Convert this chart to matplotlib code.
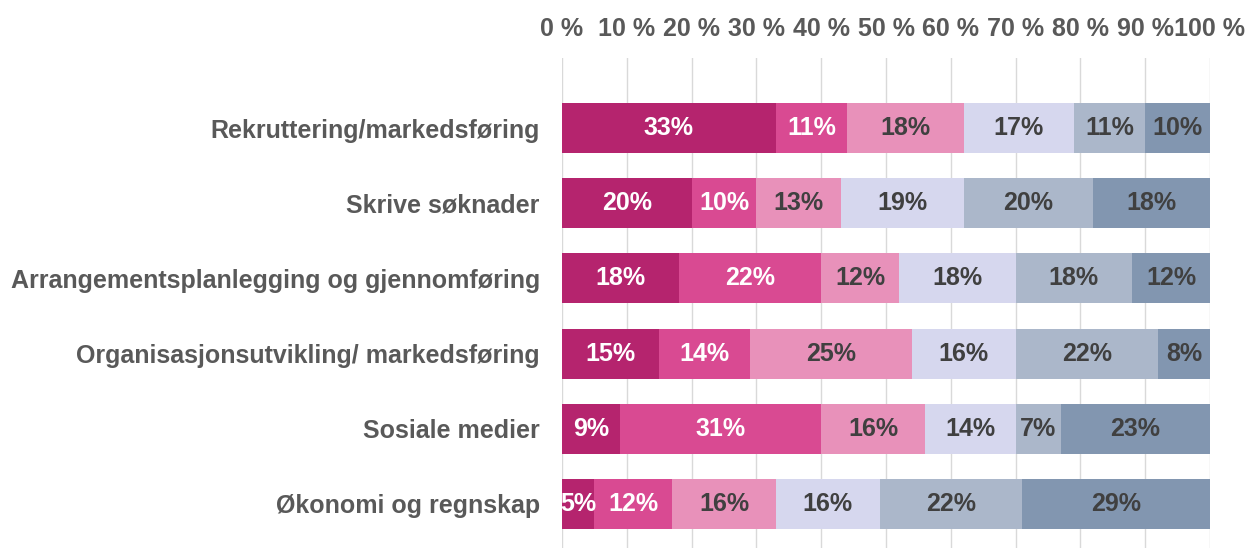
import matplotlib
matplotlib.use("Agg")
import matplotlib.pyplot as plt
import numpy as np

plt.rcParams['font.family'] = ['Liberation Sans', 'DejaVu Sans']

categories = [
    "Rekruttering/markedsføring",
    "Skrive søknader",
    "Arrangementsplanlegging og gjennomføring",
    "Organisasjonsutvikling/ markedsføring",
    "Sosiale medier",
    "Økonomi og regnskap",
]
series1 = [33, 20, 18, 15, 9, 5]
series2 = [11, 10, 22, 14, 31, 12]
series3 = [18, 13, 12, 25, 16, 16]
series4 = [17, 19, 18, 16, 14, 16]
series5 = [11, 20, 18, 22, 7, 22]
series6 = [10, 18, 12, 8, 23, 29]
tick_values = list(range(0, 101, 10))
tick_labels = [f"{v} %" for v in tick_values]

series = [series1, series2, series3, series4, series5, series6]
colors = ["#B5246E", "#D94A92", "#E891BA", "#D6D7EE", "#ABB7CA", "#8296B0"]
text_colors = ["white", "white", "#404040", "#404040", "#404040", "#404040"]

fig = plt.figure(figsize=(12.47, 5.48), dpi=100)
ax = fig.add_axes([562/1247, 0.0, (1210-562)/1247, 1 - 58/548])

y = np.arange(len(categories))
left = np.zeros(len(categories))
for vals, c, tc in zip(series, colors, text_colors):
    vals = np.array(vals, dtype=float)
    ax.barh(y, vals, left=left, height=0.667, color=c, zorder=3)
    for yi, (l, v) in enumerate(zip(left, vals)):
        ax.text(l + v/2, yi, f"{int(v)}%", ha='center', va='center',
                color=tc, fontsize=18, fontweight='bold', zorder=4)
    left += vals

ax.set_xlim(0, 100)
ax.set_ylim(5.587, -0.933)
ax.set_xticks(tick_values)
ax.set_xticklabels(tick_labels)
ax.xaxis.tick_top()
ax.tick_params(axis='x', length=0, pad=12, labelsize=18, labelcolor='#595959')
for lab in ax.get_xticklabels():
    lab.set_fontweight('bold')
ax.set_yticks(y)
ax.set_yticklabels(categories)
ax.tick_params(axis='y', length=0, pad=16, labelsize=18, labelcolor='#595959')
for lab in ax.get_yticklabels():
    lab.set_fontweight('bold')
ax.grid(axis='x', color='#D9D9D9', linewidth=1, zorder=0)
for s in ax.spines.values():
    s.set_visible(False)

fig.savefig("out.png", dpi=100)
